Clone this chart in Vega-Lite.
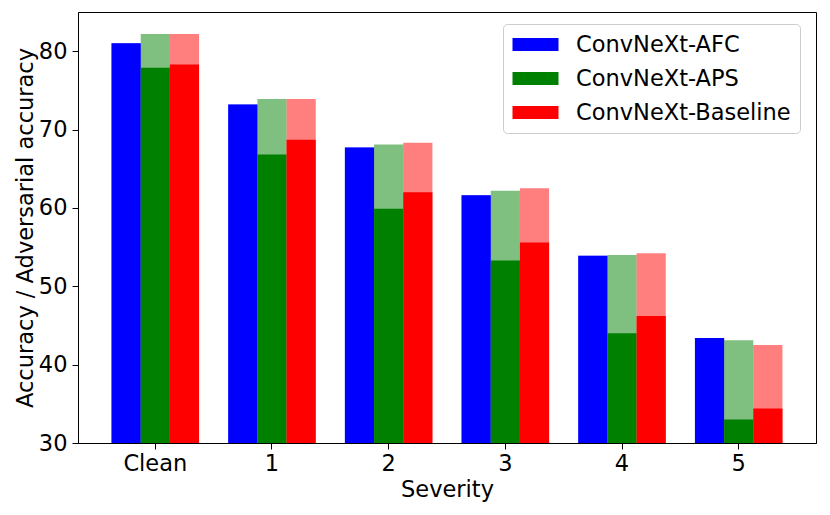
{
  "$schema": "https://vega.github.io/schema/vega-lite/v6.json",
  "autosize": {"type": "none"},
  "width": 738,
  "height": 431,
  "padding": {"left": 78, "top": 12, "right": 14, "bottom": 72},
  "background": "white",
  "data": {
    "values": [
      {"severity": "Clean", "model": "ConvNeXt-AFC", "acc": 81.0, "adv": 81.0},
      {"severity": "Clean", "model": "ConvNeXt-APS", "acc": 82.2, "adv": 77.9},
      {"severity": "Clean", "model": "ConvNeXt-Baseline", "acc": 82.2, "adv": 78.3},
      {"severity": "1", "model": "ConvNeXt-AFC", "acc": 73.2, "adv": 73.2},
      {"severity": "1", "model": "ConvNeXt-APS", "acc": 73.9, "adv": 66.8},
      {"severity": "1", "model": "ConvNeXt-Baseline", "acc": 73.9, "adv": 68.7},
      {"severity": "2", "model": "ConvNeXt-AFC", "acc": 67.7, "adv": 67.7},
      {"severity": "2", "model": "ConvNeXt-APS", "acc": 68.1, "adv": 59.9},
      {"severity": "2", "model": "ConvNeXt-Baseline", "acc": 68.3, "adv": 62.0},
      {"severity": "3", "model": "ConvNeXt-AFC", "acc": 61.6, "adv": 61.6},
      {"severity": "3", "model": "ConvNeXt-APS", "acc": 62.2, "adv": 53.3},
      {"severity": "3", "model": "ConvNeXt-Baseline", "acc": 62.5, "adv": 55.6},
      {"severity": "4", "model": "ConvNeXt-AFC", "acc": 53.9, "adv": 53.9},
      {"severity": "4", "model": "ConvNeXt-APS", "acc": 54.0, "adv": 44.0},
      {"severity": "4", "model": "ConvNeXt-Baseline", "acc": 54.2, "adv": 46.2},
      {"severity": "5", "model": "ConvNeXt-AFC", "acc": 43.4, "adv": 43.4},
      {"severity": "5", "model": "ConvNeXt-APS", "acc": 43.1, "adv": 33.0},
      {"severity": "5", "model": "ConvNeXt-Baseline", "acc": 42.5, "adv": 34.4}
    ]
  },
  "encoding": {
    "x": {
      "field": "severity",
      "type": "nominal",
      "sort": ["Clean", "1", "2", "3", "4", "5"],
      "scale": {"paddingInner": 0.25, "paddingOuter": 0.2875},
      "axis": {"labelAngle": 0, "labelPadding": 3},
      "title": "Severity"
    },
    "xOffset": {
      "field": "model",
      "type": "nominal",
      "sort": ["ConvNeXt-AFC", "ConvNeXt-APS", "ConvNeXt-Baseline"],
      "scale": {"paddingInner": 0, "paddingOuter": 0}
    },
    "color": {
      "field": "model",
      "type": "nominal",
      "scale": {
        "domain": ["ConvNeXt-AFC", "ConvNeXt-APS", "ConvNeXt-Baseline"],
        "range": ["#0000ff", "#008000", "#ff0000"]
      },
      "legend": {
        "title": null,
        "orient": "none",
        "legendX": 425,
        "legendY": 12,
        "symbolType": "M-2,-0.56H2V0.56H-2Z",
        "symbolSize": 529,
        "symbolOpacity": 1,
        "symbolStrokeWidth": 0,
        "symbolOffset": 12,
        "labelOffset": 29,
        "labelLimit": 0,
        "rowPadding": 11,
        "padding": 9,
        "labelFontSize": 22.5,
        "labelFont": "DejaVu Sans",
        "labelColor": "black",
        "fillColor": "white",
        "strokeColor": "#cccccc",
        "cornerRadius": 4
      }
    }
  },
  "layer": [
    {
      "mark": {"type": "bar", "opacity": 0.5, "strokeWidth": 0, "clip": true},
      "encoding": {
        "y": {
          "field": "acc",
          "type": "quantitative",
          "scale": {"domain": [30, 85], "zero": false, "nice": false},
          "axis": {"values": [30, 40, 50, 60, 70, 80], "titlePadding": 1},
          "title": "Accuracy / Adversarial accuracy"
        }
      }
    },
    {
      "mark": {"type": "bar", "opacity": 1, "strokeWidth": 0, "clip": true},
      "encoding": {
        "y": {"field": "adv", "type": "quantitative"}
      }
    }
  ],
  "config": {
    "view": {"stroke": "black", "strokeWidth": 1},
    "axis": {
      "grid": false,
      "domainColor": "black",
      "tickColor": "black",
      "tickSize": 6,
      "labelPadding": 5,
      "labelFont": "DejaVu Sans",
      "labelFontSize": 22.5,
      "labelColor": "black",
      "titleFont": "DejaVu Sans",
      "titleFontSize": 22.5,
      "titleFontWeight": "normal",
      "titleColor": "black"
    },
    "axisX": {"titlePadding": 4}
  }
}
